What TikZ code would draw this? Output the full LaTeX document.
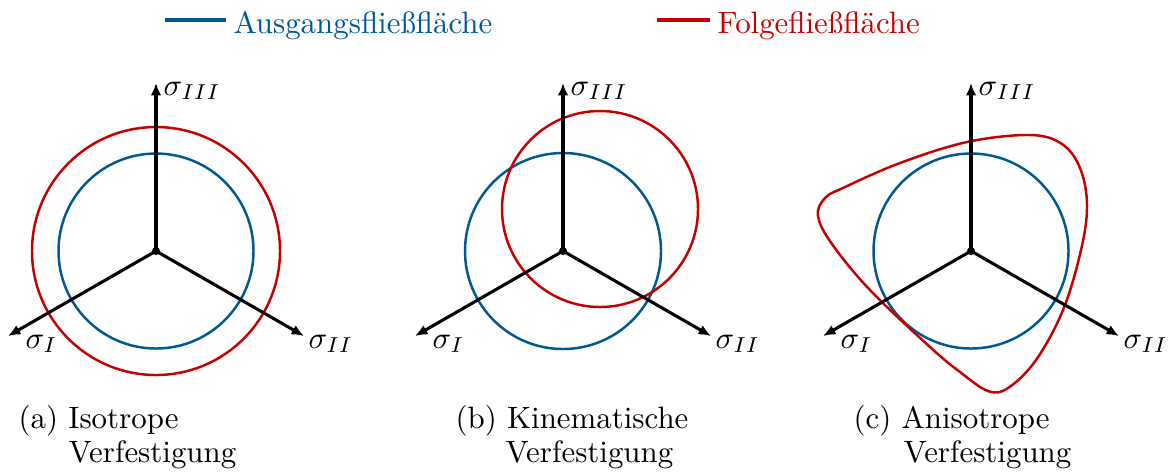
\documentclass[tikz,border=0pt]{standalone}
\usetikzlibrary{arrows.meta,calc}
\definecolor{ublue}{RGB}{0,88,145}
\definecolor{ured}{RGB}{196,0,0}
\begin{document}
\begin{tikzpicture}[x=0.3236pt,y=-0.3236pt,
  axis/.style={line width=1pt,-{Latex[length=4pt,width=3.4pt]}},
  bluec/.style={ublue,line width=0.8pt},
  redc/.style={ured,line width=0.8pt},
  lab/.style={inner sep=0pt,anchor=base west},
  legline/.style={line width=1.6pt}]
\useasboundingbox (0,0) rectangle (1172,472);
% legend
\coordinate (lb1) at (165,20); \coordinate (lb2) at (226,20);
\draw[legline,ublue] (lb1) -- (lb2);
\node[lab,text=ublue] (lbt) at (233,33) {Ausgangsflie\ss fl\"ache};
\coordinate (lr1) at (657,20); \coordinate (lr2) at (710,20);
\draw[legline,ured] (lr1) -- (lr2);
\node[lab,text=ured] (lrt) at (717,33) {Folgeflie\ss fl\"ache};
% panel a
\coordinate (a0) at (156,251);
\draw[redc] (a0) circle [radius=124];
\draw[bluec] (a0) circle [radius=97.5];
\coordinate (aI) at ($(a0)+(-148,85)$);
\coordinate (aII) at ($(a0)+(148,85)$);
\coordinate (aIII) at ($(a0)+(0,-168)$);
\draw[axis] (a0) -- (aI);
\draw[axis] (a0) -- (aII);
\draw[axis] (a0) -- (aIII);
\fill (a0) circle (1.3pt);
\node[lab] (aIl) at ($(a0)+(-131,97)$) {$\sigma_I$};
\node[lab] (aIIl) at ($(a0)+(152,97)$) {$\sigma_{II}$};
\node[lab] (aIIIl) at ($(a0)+(7,-156)$) {$\sigma_{III}$};
\node[lab] (capa1) at (18,428) {(a) Isotrope};
\node[lab] (capa2) at (68,462) {Verfestigung};
% panel b
\coordinate (b0) at (563,251);
\coordinate (bc) at (600,209);
\draw[bluec] (b0) circle [radius=98];
\draw[redc] (bc) circle [radius=98];
\coordinate (bI) at ($(b0)+(-148,85)$);
\coordinate (bII) at ($(b0)+(148,85)$);
\coordinate (bIII) at ($(b0)+(0,-168)$);
\draw[axis] (b0) -- (bI);
\draw[axis] (b0) -- (bII);
\draw[axis] (b0) -- (bIII);
\fill (b0) circle (1.3pt);
\node[lab] (bIl) at ($(b0)+(-131,97)$) {$\sigma_I$};
\node[lab] (bIIl) at ($(b0)+(152,97)$) {$\sigma_{II}$};
\node[lab] (bIIIl) at ($(b0)+(7,-156)$) {$\sigma_{III}$};
\node[lab] (capb1) at (455,428) {(b) Kinematische};
\node[lab] (capb2) at (505,462) {Verfestigung};
% panel c
\coordinate (c0) at (971,251);
\draw[bluec] (c0) circle [radius=97.5];
\draw[redc] plot[smooth cycle,tension=0.6] coordinates {
 (845,187) (900,163) (967,142) (1030,135) (1062,144)
 (1080,168) (1087,205) (1081,250) (1063,310) (1036,360)
 (1008,388) (988,391) (960,372) (930,347) (870,290)
 (832,244) (818,216) (825,198)};
\coordinate (cI) at ($(c0)+(-148,85)$);
\coordinate (cII) at ($(c0)+(148,85)$);
\coordinate (cIII) at ($(c0)+(0,-168)$);
\draw[axis] (c0) -- (cI);
\draw[axis] (c0) -- (cII);
\draw[axis] (c0) -- (cIII);
\fill (c0) circle (1.3pt);
\node[lab] (cIl) at ($(c0)+(-131,97)$) {$\sigma_I$};
\node[lab] (cIIl) at ($(c0)+(152,97)$) {$\sigma_{II}$};
\node[lab] (cIIIl) at ($(c0)+(7,-156)$) {$\sigma_{III}$};
\node[lab] (capc1) at (853,428) {(c) Anisotrope};
\node[lab] (capc2) at (903,462) {Verfestigung};
\end{tikzpicture}
\end{document}
